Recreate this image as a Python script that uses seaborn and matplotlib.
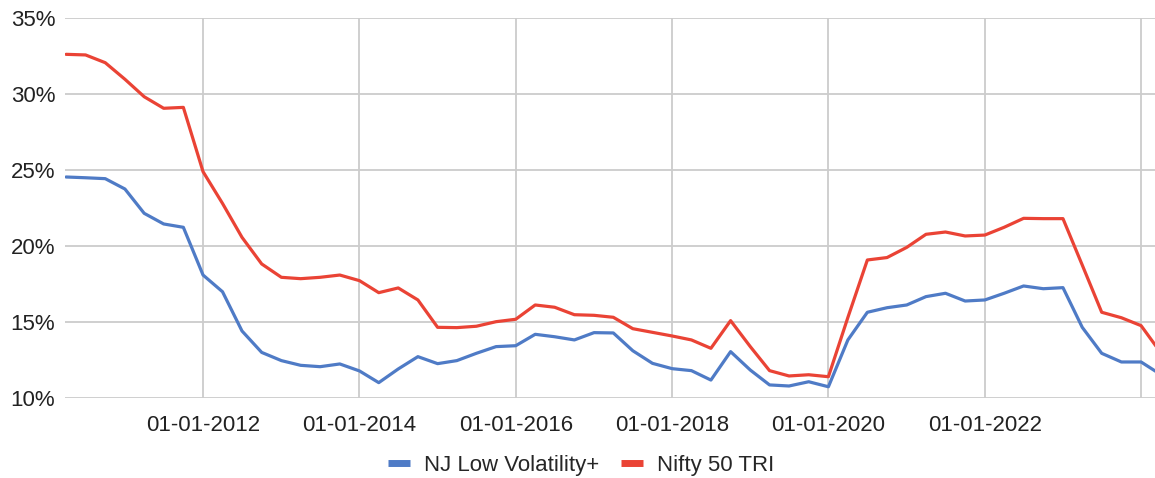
import matplotlib
matplotlib.use("Agg")
import matplotlib.pyplot as plt
import matplotlib.ticker as mticker
import pandas as pd
import seaborn as sns

dates = pd.date_range("2010-04-01", "2024-04-01", freq="QS")

nj_low_vol = [24.54, 24.49, 24.43, 23.75, 22.15, 21.45, 21.23,
              18.09, 16.99, 14.41, 13.00, 12.46, 12.15, 12.06, 12.24,
              11.78, 11.01, 11.91, 12.72, 12.26, 12.46, 12.94, 13.38,
              13.44, 14.19, 14.03, 13.82, 14.30, 14.28, 13.11, 12.28,
              11.93, 11.80, 11.18, 13.05, 11.84, 10.86, 10.79, 11.07,
              10.74, 13.82, 15.64, 15.94, 16.12, 16.67, 16.89, 16.38,
              16.45, 16.89, 17.37, 17.19, 17.26, 14.65, 12.94, 12.37,
              12.37, 11.55]

nifty_50 = [32.61, 32.57, 32.06, 30.97, 29.82, 29.06, 29.12,
            24.89, 22.80, 20.57, 18.82, 17.94, 17.85, 17.94, 18.09,
            17.72, 16.93, 17.24, 16.45, 14.65, 14.63, 14.72, 15.02,
            15.18, 16.12, 15.97, 15.48, 15.44, 15.31, 14.56, 14.32,
            14.08, 13.82, 13.27, 15.09, 13.38, 11.80, 11.45, 11.53,
            11.40, 15.30, 19.08, 19.24, 19.91, 20.77, 20.92, 20.66,
            20.72, 21.23, 21.82, 21.80, 21.80, 18.75, 15.64, 15.28,
            14.76, 13.00]

series_names = ["NJ Low Volatility+", "Nifty 50 TRI"]
colors = ["#4f7bc6", "#ea4335"]

df = pd.DataFrame({"Date": dates, series_names[0]: nj_low_vol, series_names[1]: nifty_50})
long = df.melt(id_vars="Date", var_name="Series", value_name="Volatility")

sns.set_style("white")
plt.rcParams["font.family"] = ["Liberation Sans", "DejaVu Sans"]

fig = plt.figure(figsize=(11.55, 4.78), dpi=100)
ax = fig.add_axes([65 / 1155, 1 - 398 / 478, 1 - 65 / 1155, (398 - 18) / 478])

sns.lineplot(data=long, x="Date", y="Volatility", hue="Series", palette=colors,
             linewidth=2.3, ax=ax, legend=False)

ax.set_ylim(10, 35)
ax.yaxis.set_major_locator(mticker.MultipleLocator(5))
ax.yaxis.set_major_formatter(mticker.FuncFormatter(lambda v, p: f"{v:.0f}%"))
ax.set_xlim(pd.Timestamp("2010-03-27"), pd.Timestamp("2024-03-06"))

xticks = pd.to_datetime(["2012-01-01", "2014-01-01", "2016-01-01", "2018-01-01",
                         "2020-01-01", "2022-01-01", "2024-01-01"])
ax.set_xticks(xticks)
ax.set_xticklabels([d.strftime("%d-%m-%Y") for d in xticks[:-1]] + [""])

ax.grid(True, color="#cccccc", linewidth=1.3)
ax.set_axisbelow(True)
for s in ax.spines.values():
    s.set_visible(False)
ax.tick_params(axis="both", length=0, labelsize=16, colors="#222222")
ax.tick_params(axis="x", pad=12)
ax.tick_params(axis="y", pad=7)
ax.set_xlabel("")
ax.set_ylabel("")

handles = [plt.Line2D([], [], color=c, linewidth=5, solid_capstyle="butt") for c in colors]
fig.legend(handles, series_names, loc="center", bbox_to_anchor=(0.503, 1 - 465 / 478),
           ncol=2, frameon=False, fontsize=16, handlelength=1.0, columnspacing=1.0,
           handletextpad=0.6)

fig.savefig("out.png", dpi=100)
